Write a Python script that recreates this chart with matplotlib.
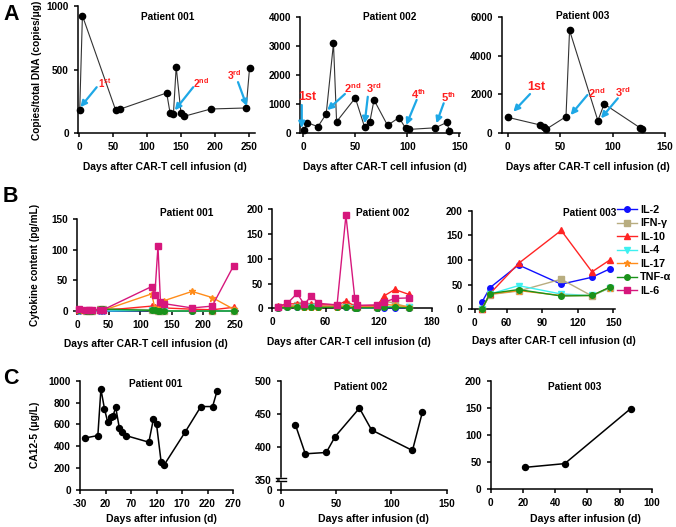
import numpy as np
import matplotlib
matplotlib.use("Agg")
from matplotlib import pyplot as plt

plt.rcParams['font.family'] = ['Liberation Sans', 'DejaVu Sans']
plt.rcParams['font.weight'] = 'bold'
plt.rcParams['mathtext.fontset'] = 'custom'
plt.rcParams['mathtext.bf'] = 'Liberation Sans:bold'
plt.rcParams['mathtext.rm'] = 'Liberation Sans:bold'
plt.rcParams['axes.unicode_minus'] = False
plt.rcParams['axes.linewidth'] = 1.1
plt.rcParams['xtick.major.width'] = 1.1
plt.rcParams['ytick.major.width'] = 1.1
plt.rcParams['xtick.major.size'] = 3
plt.rcParams['ytick.major.size'] = 3
plt.rcParams['xtick.labelsize'] = 7.2
plt.rcParams['ytick.labelsize'] = 7.2

# ---- panel A: CAR-T copies / total DNA ----
a1_days = [1, 5, 54, 60, 129, 134, 139, 143, 150, 155, 194, 246, 251]
a1_copies = [180, 924, 181, 189, 317, 160, 155, 522, 163, 134, 191, 199, 514]
a2_days = [0.7, 4, 14, 22, 29, 32, 50, 59, 64, 68, 81, 92, 98.5, 102, 127, 138, 140.5]
a2_copies = [115, 365, 228, 665, 3100, 400, 1220, 207, 400, 1150, 275, 540, 170, 135, 190, 375, 90]
a3_days = [0, 31, 35, 37, 55.6, 59, 86, 92, 126, 128]
a3_copies = [823, 428, 343, 221, 857, 5300, 650, 1508, 290, 206]

# ---- panel B: cytokines ----
cytokines = ['IL-2', 'IFN-γ', 'IL-10', 'IL-4', 'IL-17', 'TNF-α', 'IL-6']
cyto_colors = ['#1010ff', '#b8ad80', '#ff2424', '#3ef0f0', '#ff8c1a', '#1a921a', '#d6177c']
cyto_markers = ['o', 's', '^', 'v', '*', 'o', 's']

b1_days = [3, 14, 18, 24, 36, 41, 118, 123, 128, 132, 138, 182, 214, 248]
b1_vals = {
    'IL-2':  [0, 0, 0, 0, 0, 0, 1, 1, 0, 0, 0, 0, 0, 0],
    'IFN-γ': [1, 0, 0, 0, 4, 4, 2, 1, 0, 0, 0, 1, 0, 0],
    'IL-10': [2, 1, 1, 1, 1, 1, 8, 7, 6, 4, 5, 3, 2, 6],
    'IL-4':  [0, 0, 0, 0, 0, 0, 1, 1, 0, 0, 0, 0, 0, 0],
    'IL-17': [2, 1, 1, 1, 1, 1, 28, 5, 4, 2, 17, 32, 22, 3],
    'TNF-α': [1, 0, 0, 0, 3, 3, 1, 1, 0, 0, 0, 0, 0, 0],
    'IL-6':  [4, 1, 2, 1, 2, 2, 40, 26, 106, 14, 12, 5, 8, 74],
}
b2_days = [6, 17, 28, 36, 44, 52, 73, 83, 93, 96, 118, 126, 138, 154]
b2_vals = {
    'IL-2':  [1, 3, 3, 3, 3, 3, 2, 2, 1, 1, 1, 1, 1, 1],
    'IFN-γ': [2, 5, 6, 5, 4, 4, 5, 8, 3, 3, 3, 15, 10, 2],
    'IL-10': [4, 9, 9, 8, 8, 7, 7, 14, 5, 5, 5, 25, 38, 28],
    'IL-4':  [1, 2, 2, 2, 2, 2, 2, 2, 1, 1, 1, 3, 3, 2],
    'IL-17': [2, 4, 4, 3, 3, 3, 3, 5, 2, 2, 2, 8, 6, 3],
    'TNF-α': [1, 2, 2, 2, 2, 2, 2, 2, 1, 1, 1, 2, 2, 1],
    'IL-6':  [3, 10, 30, 8, 25, 10, 7, 188, 20, 6, 7, 12, 20, 21],
}
b3_days = [39, 46, 70, 106, 132, 147]
b3_vals = {
    'IL-2':  [14, 44, 90, 51, 65, 82],
    'IFN-γ': [0, 30, 37, 61, 27, 44],
    'IL-10': [1, 32, 93, 160, 76, 100],
    'IL-4':  [0, 31, 48, 31, 28, 43],
    'IL-17': [0, 31, 38, 28, 28, 44],
    'TNF-α': [0, 32, 40, 27, 28, 45],
    'IL-6':  [np.nan] * 6,
}

# ---- panel C: CA12-5 ----
c1_days = [-20, 5, 11, 18, 24, 31, 35, 40, 47, 53, 60, 105, 114, 120, 129, 135, 176, 207, 230, 239]
c1_ca125 = [476, 498, 925, 744, 627, 667, 682, 759, 571, 535, 498, 437, 652, 605, 258, 228, 529, 765, 765, 912]
c2_days = [13, 22, 41, 49, 71, 82, 119, 128]
c2_ca125 = [434, 390, 392, 416, 459, 426, 395, 453]
c3_days = [21, 46, 87]
c3_ca125 = [40, 47, 149]

W, H = 676, 527
fig = plt.figure(figsize=(W / 100, H / 100), dpi=100)


def px_axes(l, t, r, b):
    ax = fig.add_axes([l / W, 1 - b / H, (r - l) / W, (b - t) / H])
    ax.spines['top'].set_visible(False)
    ax.spines['right'].set_visible(False)
    return ax


def ftext(x, y, s, **kw):
    kw.setdefault('ha', 'center')
    kw.setdefault('va', 'center')
    kw.setdefault('fontweight', 'bold')
    return fig.text(x / W, 1 - y / H, s, **kw)


red = '#ff1f1f'
cyan = '#1ea8e6'


def mark(ax, label, txt_xy, tail, tip, size=7.5):
    ax.text(*txt_xy, label, color=red, fontsize=size, fontweight='bold',
            ha='center', va='center')
    ax.annotate('', xy=tip, xytext=tail, annotation_clip=False,
                arrowprops=dict(arrowstyle='-|>', color=cyan, lw=1.6,
                                mutation_scale=9, shrinkA=0, shrinkB=0))


def copies(ax, x, y):
    ax.plot(x, y, '-', color='#333333', lw=0.8, marker='o', ms=4.5,
            mfc='black', mec='black', clip_on=False, zorder=3)


# A
ax = px_axes(78, 6, 255, 133.3)
copies(ax, a1_days, a1_copies)
ax.set_xlim(-1.5, 259)
ax.set_ylim(0, 1000)
ax.set_xticks([0, 50, 100, 150, 200, 250])
ax.set_yticks([0, 500, 1000])
mark(ax, r'1$^{\mathbf{st}}$', (38, 394), (26, 362), (2, 205), 7)
mark(ax, r'2$^{\mathbf{nd}}$', (180, 394), (168, 362), (141, 181))
mark(ax, r'3$^{\mathbf{rd}}$', (228, 457), (234, 402), (247, 213))

ax = px_axes(300, 17.3, 460, 133.3)
copies(ax, a2_days, a2_copies)
ax.set_xlim(-3.2, 150.7)
ax.set_ylim(0, 4000)
ax.set_xticks([0, 50, 100, 150])
ax.set_yticks([0, 1000, 2000, 3000, 4000])
mark(ax, '1st', (4, 1260), (-1.5, 975), (-1.5, 180), 9)
mark(ax, r'2$^{\mathbf{nd}}$', (47, 1560), (40, 1355), (23, 800), 8)
mark(ax, r'3$^{\mathbf{rd}}$', (68, 1560), (62, 1260), (59, 345), 8)
mark(ax, r'4$^{\mathbf{th}}$', (111, 1345), (109, 1150), (99, 285), 8)
mark(ax, r'5$^{\mathbf{th}}$', (140, 1260), (135, 1035), (128, 345), 8)

ax = px_axes(501.7, 16.7, 665, 133.3)
copies(ax, a3_days, a3_copies)
ax.set_xlim(-5.7, 150)
ax.set_ylim(0, 6000)
ax.set_xticks([0, 50, 100, 150])
ax.set_yticks([0, 2000, 4000, 6000])
mark(ax, '1st', (27.5, 2365), (21.3, 2020), (5.4, 1110), 9)
mark(ax, r'2$^{\mathbf{nd}}$', (85, 2060), (76, 1970), (60, 940), 8)
mark(ax, r'3$^{\mathbf{rd}}$', (110, 2140), (105, 1800), (89, 770), 8)

for s, x, y in [('Patient 001', 168, 17), ('Patient 002', 390, 17), ('Patient 003', 583, 16)]:
    ftext(x, y, s, fontsize=7.3)
for x in [165, 385, 588]:
    ftext(x, 167, 'Days after CAR-T cell infusion (d)', fontsize=7.4)
ftext(37, 70, 'Copies/total DNA (copies/μg)', fontsize=7.3, rotation=90)
ftext(3, 14, 'A', fontsize=15.5, ha='left')


# B
def cyto(ax, days, vals):
    for name, c, m in zip(cytokines, cyto_colors, cyto_markers):
        ax.plot(days, vals[name], '-', color=c, lw=1, marker=m,
                ms=4 if m != '*' else 4.5, mfc=c, mec=c, clip_on=False,
                label=name, zorder=3)


ax = px_axes(77.3, 219.3, 238, 311)
cyto(ax, b1_days, b1_vals)
ax.set_xlim(0, 255)
ax.set_ylim(0, 150)
ax.set_xticks([0, 50, 100, 150, 200, 250])
ax.set_yticks([0, 50, 100, 150])

ax = px_axes(272.3, 209.3, 432, 308.3)
cyto(ax, b2_days, b2_vals)
ax.set_xlim(0, 180)
ax.set_ylim(0, 200)
ax.set_xticks([0, 60, 120, 180])
ax.set_yticks([0, 50, 100, 150, 200])

ax = px_axes(471.7, 210.7, 615, 309.3)
cyto(ax, b3_days, b3_vals)
ax.set_xlim(30.5, 151.4)
ax.set_ylim(0, 200)
ax.set_xticks([33, 60, 90, 120, 150])
ax.set_xticklabels(['0', '60', '90', '120', '150'])
ax.set_yticks([0, 50, 100, 150, 200])
handles, labels = ax.get_legend_handles_labels()
fig.legend(handles, labels, loc='upper left', bbox_to_anchor=(617 / W, 1 - 205 / H),
           frameon=False, handlelength=1.8, handletextpad=0.35,
           labelspacing=0.32, borderaxespad=0, borderpad=0,
           prop={'weight': 'bold', 'size': 7.8})

for s, x, y in [('Patient 001', 187, 212.7), ('Patient 002', 382.5, 213.3), ('Patient 003', 590, 213.3)]:
    ftext(x, y, s, fontsize=7.3)
for x, y in [(146, 344), (349, 341.7), (554, 341)]:
    ftext(x, y, 'Days after CAR-T cell infusion (d)', fontsize=7.4)
ftext(35, 265, 'Cytokine content (pg/mL)', fontsize=7.3, rotation=90)
ftext(3, 197, 'B', fontsize=15.5, ha='left')


# C
def ca(ax, x, y):
    ax.plot(x, y, '-', color='black', lw=1.1, marker='o', ms=4.3,
            mfc='black', mec='black', clip_on=False, zorder=3)


ax = px_axes(80, 381, 233, 489.7)
ca(ax, c1_days, c1_ca125)
ax.set_xlim(-30, 270)
ax.set_ylim(0, 1000)
ax.set_xticks([-30, 20, 70, 120, 170, 220, 270])
ax.set_yticks([0, 200, 400, 600, 800, 1000])

ax = px_axes(281, 381, 446.7, 490)
ca(ax, c2_days, c2_ca125)
ax.set_xlim(0, 150)
ax.set_ylim(335.3, 500)
ax.set_xticks([0, 50, 100, 150])
ax.set_yticks([335.3, 350, 400, 450, 500])
ax.set_yticklabels(['0', '350', '400', '450', '500'])
# axis break on y
for yb in (0.085, 0.11):
    ax.plot([-0.03, 0.03], [yb, yb], transform=ax.transAxes, color='black',
            lw=1, clip_on=False, zorder=5)
ax.plot([0, 0], [0.09, 0.105], transform=ax.transAxes, color='white',
        lw=2.5, clip_on=False, zorder=4)

ax = px_axes(490.7, 381, 651.7, 489)
ca(ax, c3_days, c3_ca125)
ax.set_xlim(0, 100)
ax.set_ylim(0, 200)
ax.set_xticks([0, 20, 40, 60, 80, 100])
ax.set_yticks([0, 50, 100, 150, 200])

for s, x, y in [('Patient 001', 155.6, 384.3), ('Patient 002', 361, 387.3), ('Patient 003', 574.5, 387.3)]:
    ftext(x, y, s, fontsize=7.3)
for x in [161.7, 373.5, 585.5]:
    ftext(x, 519.5, 'Days after infusion (d)', fontsize=7.6)
ftext(35, 435, 'CA12-5 (μg/L)', fontsize=7.4, rotation=90)
ftext(3, 379, 'C', fontsize=15.5, ha='left')

for a in fig.axes:
    for lab in a.get_xticklabels() + a.get_yticklabels():
        lab.set_fontweight('bold')

fig.savefig('out.png', dpi=100)
